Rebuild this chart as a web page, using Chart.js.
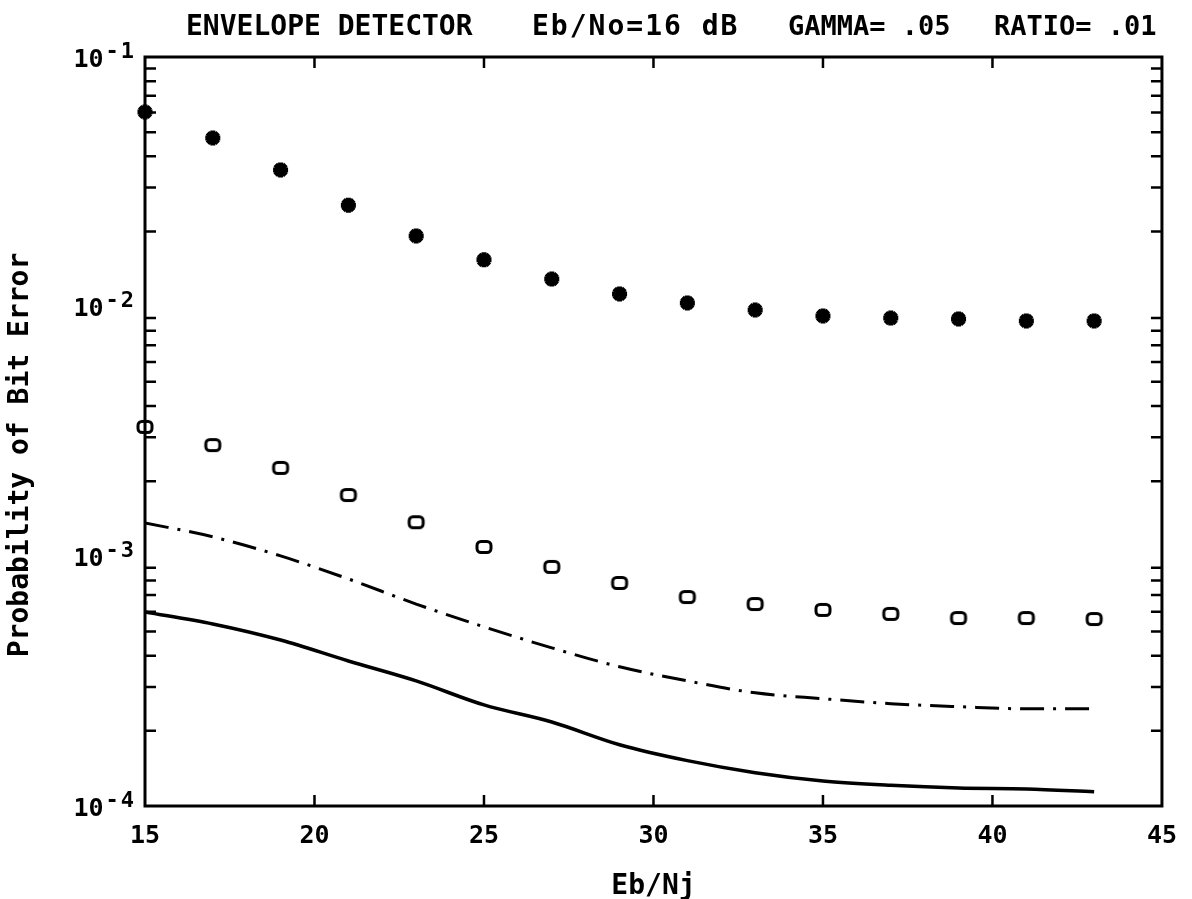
<!DOCTYPE html>
<html>
<head>
<meta charset="utf-8">
<script src="https://cdn.jsdelivr.net/npm/chart.js@4.4.1/dist/chart.umd.min.js"></script>
<style>
  html, body { margin: 0; padding: 0; background: #fff; }
  #plot { display: block; }
</style>
</head>
<body>
<canvas id="plot" width="1192" height="899"></canvas>
<script>
// Eb/Nj values (dB)
const ebnj = [15, 17, 19, 21, 23, 25, 27, 29, 31, 33, 35, 37, 39, 41, 43];

// asterisk markers
const starPe = [0.0602, 0.0474, 0.0353, 0.0255, 0.0192, 0.0154, 0.0129, 0.01125,
  0.01035, 0.0097, 0.00918, 0.0090, 0.00893, 0.00877, 0.00877];

// open "o" markers
const circlePe = [0.00330, 0.00279, 0.00226, 0.00176, 0.00137, 0.00109, 0.000907,
  0.000782, 0.000687, 0.000644, 0.000610, 0.000588, 0.000566, 0.000566, 0.000561];

// dash-dot curve
const dashDotPe = [0.001361, 0.001197, 0.001004, 0.000812, 0.000644, 0.000522, 0.000430,
  0.000361, 0.000317, 0.000284, 0.000269, 0.000257, 0.000250, 0.000245, 0.000245];

// solid curve
const solidPe = [0.000599, 0.000536, 0.000462, 0.000381, 0.000317, 0.000254, 0.000217,
  0.000176, 0.000152, 0.000136, 0.000126, 0.000121, 0.000118, 0.000117, 0.000114];

const xTicks = [15, 20, 25, 30, 35, 40, 45];
const yTicks = [1e-4, 1e-3, 1e-2, 1e-1];
const yTickExp = ["-4", "-3", "-2", "-1"];

const FONT = "'DejaVu Sans Mono', 'Liberation Mono', monospace";

function pts(ys) {
  return ebnj.map((x, i) => ({ x: x, y: ys[i] }));
}

// hollow rounded-box marker like the plotter's "o"
function boxMarker() {
  const c = document.createElement("canvas");
  c.width = 20; c.height = 16;
  const g = c.getContext("2d");
  g.lineWidth = 3;
  g.strokeStyle = "#000";
  g.beginPath();
  g.roundRect(3, 2.5, 14, 11, 4);
  g.stroke();
  return c;
}

// frame, inward ticks and hand-set labels, placed through the chart's scales
const framePlugin = {
  id: "frame",
  afterDatasetsDraw(chart) {
    const { ctx, chartArea: a, scales } = chart;
    const xs = scales.x, ys = scales.y;
    ctx.save();
    ctx.strokeStyle = "#000";
    ctx.lineWidth = 3;
    ctx.strokeRect(a.left, a.top, a.right - a.left, a.bottom - a.top);
    ctx.lineWidth = 2.5;
    ctx.beginPath();
    xTicks.slice(1, -1).forEach((v) => {
      const px = xs.getPixelForValue(v);
      ctx.moveTo(px, a.bottom); ctx.lineTo(px, a.bottom - 11);
      ctx.moveTo(px, a.top); ctx.lineTo(px, a.top + 11);
    });
    for (let d = -4; d < -1; d++) {
      for (let m = 2; m <= 9; m++) {
        const py = ys.getPixelForValue(m * Math.pow(10, d));
        ctx.moveTo(a.left, py); ctx.lineTo(a.left + 11, py);
        ctx.moveTo(a.right, py); ctx.lineTo(a.right - 11, py);
      }
    }
    ctx.stroke();

    ctx.fillStyle = "#000";
    // y tick labels 10^n
    yTicks.forEach((v, i) => {
      const py = ys.getPixelForValue(v);
      ctx.textBaseline = "middle";
      ctx.textAlign = "right";
      ctx.font = "bold 22px " + FONT;
      ctx.letterSpacing = "2px";
      const supW = ctx.measureText(yTickExp[i]).width;
      const right = a.left - 9;
      ctx.fillText(yTickExp[i], right, py - 5);
      ctx.letterSpacing = "0px";
      ctx.font = "bold 25px " + FONT;
      ctx.fillText("10", right - supW - 2, py + 3);
    });

    // title pieces
    ctx.textAlign = "left";
    ctx.textBaseline = "middle";
    ctx.font = "bold 28px " + FONT;
    ctx.fillText("ENVELOPE DETECTOR", 186, 28);
    ctx.letterSpacing = "2px";
    ctx.fillText("Eb/No=16 dB", 532, 28);
    ctx.letterSpacing = "0px";
    ctx.font = "bold 27px " + FONT;
    ctx.fillText("GAMMA= .05", 788, 28);
    ctx.fillText("RATIO= .01", 994, 28);

    // y axis title
    ctx.font = "bold 28px " + FONT;
    ctx.translate(21, 455);
    ctx.rotate(-Math.PI / 2);
    ctx.textAlign = "center";
    ctx.fillText("Probability of Bit Error", 0, 0);
    ctx.restore();
  }
};

new Chart(document.getElementById("plot").getContext("2d"), {
  type: "scatter",
  data: {
    datasets: [
      {
        label: "asterisk",
        data: pts(starPe),
        pointStyle: "star",
        pointRadius: 7.5,
        borderWidth: 5,
        borderColor: "#000",
        backgroundColor: "#000",
        clip: false
      },
      {
        label: "circle",
        data: pts(circlePe),
        pointStyle: boxMarker(),
        pointRadius: 7,
        clip: false
      },
      {
        label: "dash-dot",
        data: pts(dashDotPe),
        showLine: true,
        pointRadius: 0,
        borderWidth: 3,
        borderColor: "#000",
        borderDash: [24, 9, 3, 9],
        cubicInterpolationMode: "monotone"
      },
      {
        label: "solid",
        data: pts(solidPe),
        showLine: true,
        pointRadius: 0,
        borderWidth: 3.5,
        borderColor: "#000",
        cubicInterpolationMode: "monotone"
      }
    ]
  },
  options: {
    responsive: false,
    animation: false,
    layout: { padding: { left: 0, right: 18, top: 57, bottom: 0 } },
    plugins: {
      legend: { display: false },
      tooltip: { enabled: false },
      title: { display: false }
    },
    scales: {
      x: {
        type: "linear",
        min: 15,
        max: 45,
        afterBuildTicks: (s) => { s.ticks = xTicks.map((v) => ({ value: v })); },
        afterFit: (s) => { s.height = 93; },
        grid: { display: false, drawTicks: false },
        border: { display: false },
        ticks: {
          color: "#000",
          padding: 15,
          font: { family: FONT, size: 25, weight: "bold" }
        },
        title: {
          display: true,
          text: "Eb/Nj",
          color: "#000",
          font: { family: FONT, size: 28, weight: "bold", lineHeight: 0.86 },
          padding: { top: 0, bottom: 0 }
        }
      },
      y: {
        type: "logarithmic",
        min: 1e-4,
        max: 1e-1,
        afterBuildTicks: (s) => { s.ticks = yTicks.map((v) => ({ value: v })); },
        afterFit: (s) => { s.width = 145; },
        grid: { display: false, drawTicks: false },
        border: { display: false },
        ticks: { display: false },
        title: { display: false }
      }
    }
  },
  plugins: [framePlugin]
});
</script>
</body>
</html>
